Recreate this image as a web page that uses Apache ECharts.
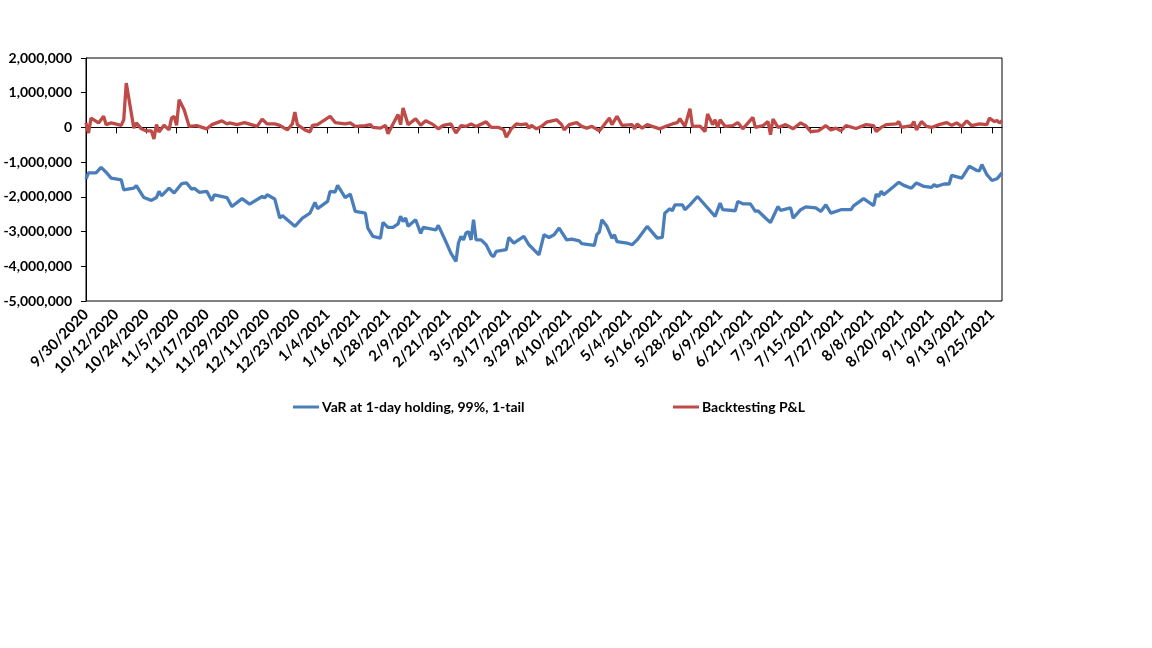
<!DOCTYPE html>
<html>
<head>
<meta charset="utf-8">
<script src="https://cdn.jsdelivr.net/npm/echarts@6/dist/echarts.min.js"></script>
<style>
html,body{margin:0;padding:0;background:#fff;}
#chart{width:1152px;height:648px;}
</style>
</head>
<body>
<div id="chart"></div>
<script>
// Axis range (calendar days, category axis)
const firstDate = '9/30/2020';
const lastDate = '9/29/2021';

// Y axis tick values
const yTicks = [-5000000, -4000000, -3000000, -2000000, -1000000, 0, 1000000, 2000000];

// Series names
const seriesNames = ['VaR at 1-day holding, 99%, 1-tail', 'Backtesting P&L'];

// VaR series (observation dates and values)
const varDates = ['9/30/2020','10/1/2020','10/4/2020','10/6/2020','10/8/2020','10/10/2020','10/14/2020','10/15/2020','10/19/2020','10/20/2020','10/23/2020','10/26/2020','10/28/2020','10/29/2020','10/30/2020','11/2/2020','11/4/2020','11/7/2020','11/9/2020','11/11/2020','11/12/2020','11/14/2020','11/17/2020','11/19/2020','11/20/2020','11/25/2020','11/27/2020','12/1/2020','12/4/2020','12/9/2020','12/10/2020','12/11/2020','12/14/2020','12/16/2020','12/17/2020','12/22/2020','12/25/2020','12/28/2020','12/30/2020','12/31/2020','1/4/2021','1/5/2021','1/7/2021','1/8/2021','1/11/2021','1/13/2021','1/15/2021','1/19/2021','1/20/2021','1/22/2021','1/25/2021','1/26/2021','1/28/2021','1/30/2021','2/1/2021','2/2/2021','2/3/2021','2/4/2021','2/5/2021','2/8/2021','2/10/2021','2/11/2021','2/16/2021','2/17/2021','2/20/2021','2/22/2021','2/24/2021','2/25/2021','2/26/2021','2/27/2021','2/28/2021','3/1/2021','3/2/2021','3/3/2021','3/4/2021','3/6/2021','3/8/2021','3/10/2021','3/11/2021','3/12/2021','3/16/2021','3/17/2021','3/19/2021','3/23/2021','3/25/2021','3/29/2021','3/31/2021','4/2/2021','4/4/2021','4/6/2021','4/9/2021','4/11/2021','4/14/2021','4/15/2021','4/20/2021','4/21/2021','4/22/2021','4/23/2021','4/25/2021','4/27/2021','4/28/2021','4/29/2021','5/3/2021','5/5/2021','5/7/2021','5/11/2021','5/15/2021','5/17/2021','5/18/2021','5/20/2021','5/21/2021','5/22/2021','5/25/2021','5/26/2021','5/28/2021','5/31/2021','6/7/2021','6/9/2021','6/10/2021','6/15/2021','6/16/2021','6/18/2021','6/21/2021','6/23/2021','6/24/2021','6/27/2021','6/29/2021','7/2/2021','7/3/2021','7/7/2021','7/8/2021','7/11/2021','7/13/2021','7/17/2021','7/19/2021','7/21/2021','7/23/2021','7/27/2021','7/31/2021','8/1/2021','8/5/2021','8/9/2021','8/10/2021','8/11/2021','8/12/2021','8/13/2021','8/19/2021','8/21/2021','8/24/2021','8/26/2021','8/29/2021','9/1/2021','9/2/2021','9/3/2021','9/6/2021','9/8/2021','9/9/2021','9/13/2021','9/16/2021','9/19/2021','9/20/2021','9/21/2021','9/23/2021','9/25/2021','9/27/2021','9/29/2021'];
const varValues = [-1480000,-1310000,-1310000,-1150000,-1290000,-1460000,-1510000,-1800000,-1750000,-1680000,-2020000,-2100000,-2020000,-1840000,-1970000,-1750000,-1890000,-1620000,-1600000,-1780000,-1750000,-1870000,-1840000,-2110000,-1940000,-2020000,-2280000,-2050000,-2210000,-1990000,-2030000,-1940000,-2060000,-2610000,-2540000,-2850000,-2610000,-2470000,-2160000,-2340000,-2130000,-1840000,-1860000,-1670000,-2020000,-1920000,-2420000,-2470000,-2900000,-3140000,-3190000,-2740000,-2880000,-2880000,-2780000,-2560000,-2710000,-2610000,-2850000,-2660000,-3050000,-2880000,-2950000,-2820000,-3290000,-3620000,-3860000,-3330000,-3140000,-3240000,-3040000,-3000000,-3240000,-2660000,-3240000,-3240000,-3380000,-3670000,-3720000,-3570000,-3520000,-3170000,-3330000,-3140000,-3380000,-3670000,-3090000,-3170000,-3090000,-2900000,-3240000,-3220000,-3270000,-3350000,-3400000,-3090000,-3010000,-2660000,-2850000,-3190000,-3090000,-3290000,-3330000,-3380000,-3240000,-2850000,-3190000,-3170000,-2470000,-2340000,-2400000,-2230000,-2230000,-2370000,-2230000,-1990000,-2560000,-2180000,-2370000,-2400000,-2130000,-2200000,-2200000,-2420000,-2400000,-2610000,-2740000,-2280000,-2390000,-2320000,-2610000,-2370000,-2290000,-2320000,-2420000,-2230000,-2470000,-2370000,-2370000,-2260000,-2050000,-2250000,-1920000,-1990000,-1840000,-1940000,-1580000,-1670000,-1750000,-1600000,-1700000,-1730000,-1650000,-1700000,-1630000,-1630000,-1380000,-1460000,-1120000,-1240000,-1250000,-1070000,-1360000,-1530000,-1480000,-1310000];

// Backtesting P&L series (observation dates and values)
const plDates = ['9/30/2020','10/1/2020','10/2/2020','10/5/2020','10/7/2020','10/8/2020','10/10/2020','10/14/2020','10/15/2020','10/16/2020','10/19/2020','10/20/2020','10/22/2020','10/24/2020','10/26/2020','10/27/2020','10/28/2020','10/29/2020','10/31/2020','11/2/2020','11/3/2020','11/4/2020','11/5/2020','11/6/2020','11/8/2020','11/10/2020','11/13/2020','11/17/2020','11/19/2020','11/23/2020','11/25/2020','11/26/2020','11/29/2020','12/2/2020','12/7/2020','12/9/2020','12/11/2020','12/14/2020','12/16/2020','12/19/2020','12/21/2020','12/22/2020','12/23/2020','12/26/2020','12/28/2020','12/29/2020','12/31/2020','1/5/2021','1/7/2021','1/11/2021','1/13/2021','1/15/2021','1/19/2021','1/21/2021','1/22/2021','1/25/2021','1/27/2021','1/28/2021','1/30/2021','2/1/2021','2/2/2021','2/3/2021','2/5/2021','2/8/2021','2/10/2021','2/12/2021','2/15/2021','2/17/2021','2/19/2021','2/22/2021','2/24/2021','2/26/2021','2/28/2021','3/2/2021','3/4/2021','3/8/2021','3/10/2021','3/13/2021','3/15/2021','3/16/2021','3/18/2021','3/20/2021','3/22/2021','3/24/2021','3/25/2021','3/26/2021','3/28/2021','3/30/2021','4/1/2021','4/5/2021','4/7/2021','4/8/2021','4/10/2021','4/13/2021','4/15/2021','4/17/2021','4/19/2021','4/22/2021','4/26/2021','4/27/2021','4/29/2021','5/1/2021','5/5/2021','5/6/2021','5/7/2021','5/9/2021','5/11/2021','5/13/2021','5/16/2021','5/19/2021','5/21/2021','5/23/2021','5/24/2021','5/26/2021','5/28/2021','5/29/2021','6/1/2021','6/3/2021','6/4/2021','6/6/2021','6/7/2021','6/8/2021','6/9/2021','6/11/2021','6/14/2021','6/16/2021','6/18/2021','6/22/2021','6/23/2021','6/26/2021','6/28/2021','6/29/2021','6/30/2021','7/2/2021','7/5/2021','7/8/2021','7/11/2021','7/13/2021','7/15/2021','7/18/2021','7/21/2021','7/23/2021','7/25/2021','7/27/2021','7/29/2021','8/2/2021','8/6/2021','8/9/2021','8/10/2021','8/12/2021','8/14/2021','8/18/2021','8/19/2021','8/20/2021','8/24/2021','8/25/2021','8/26/2021','8/28/2021','8/30/2021','9/1/2021','9/4/2021','9/7/2021','9/9/2021','9/11/2021','9/13/2021','9/15/2021','9/17/2021','9/20/2021','9/23/2021','9/24/2021','9/26/2021','9/27/2021','9/28/2021','9/29/2021'];
const plValues = [130000,-160000,270000,130000,320000,80000,130000,60000,220000,1280000,-20000,130000,-40000,-100000,-100000,-330000,80000,-130000,60000,-70000,270000,320000,60000,800000,510000,30000,50000,-40000,80000,190000,100000,130000,80000,140000,30000,240000,100000,100000,60000,-70000,100000,440000,80000,-70000,-130000,60000,80000,320000,140000,100000,130000,30000,50000,80000,0,-20000,60000,-180000,100000,370000,80000,560000,80000,250000,60000,190000,80000,-40000,60000,100000,-160000,50000,30000,100000,30000,160000,0,0,-70000,-280000,-40000,100000,80000,100000,-20000,60000,-40000,30000,150000,220000,80000,-70000,80000,140000,30000,-20000,30000,-100000,270000,80000,320000,60000,80000,-40000,100000,-20000,80000,30000,-40000,50000,100000,140000,250000,30000,540000,30000,40000,-120000,390000,80000,220000,0,220000,30000,50000,140000,-40000,290000,0,50000,170000,-210000,240000,0,80000,-40000,130000,50000,-120000,-100000,50000,-70000,-20000,-100000,50000,-30000,80000,50000,-120000,0,80000,100000,170000,0,50000,170000,-70000,170000,30000,0,80000,140000,60000,130000,30000,190000,50000,100000,80000,270000,170000,200000,130000,190000];

// Build the calendar-day categories
function fmt(d){ return (d.getMonth()+1) + '/' + d.getDate() + '/' + d.getFullYear(); }
function parse(s){ const p = s.split('/').map(Number); return new Date(p[2], p[0]-1, p[1]); }
const categories = [];
for (let d = parse(firstDate); d <= parse(lastDate); d.setDate(d.getDate()+1)) categories.push(fmt(d));

function align(dates, values){
  const m = new Map(dates.map((d,i)=>[d, values[i]]));
  return categories.map(c => m.has(c) ? m.get(c) : null);
}

const FONT = 'Lato, "Open Sans", sans-serif';
const chart = echarts.init(document.getElementById('chart'), null, {renderer:'canvas'});
const tickEvery = 12;

chart.setOption({
  animation: false,
  backgroundColor: '#ffffff',
  grid: { left: 86, right: 150, top: 58, bottom: 347, show: true, borderColor: '#000', borderWidth: 1, backgroundColor: 'transparent' },
  legend: [
    { data: [seriesNames[0]], left: 288, top: 395, icon: 'rect', itemWidth: 26, itemHeight: 3, itemGap: 0,
      textStyle: { fontFamily: FONT, fontWeight: 'bold', fontSize: 14, color: '#000', padding: [0,0,0,-2] } },
    { data: [seriesNames[1]], left: 668, top: 395, icon: 'rect', itemWidth: 26, itemHeight: 3, itemGap: 0,
      textStyle: { fontFamily: FONT, fontWeight: 'bold', fontSize: 14, color: '#000', padding: [0,0,0,-2] } }
  ],
  xAxis: [
    {
      type: 'category', data: categories, boundaryGap: false,
      axisLine: { show: true, onZero: true, lineStyle: { color: '#000', width: 1 } },
      axisTick: { show: true, length: 6, interval: (i) => i % tickEvery === 0, lineStyle: { color: '#000' } },
      axisLabel: { show: false },
      splitLine: { show: false }
    },
    {
      type: 'category', data: categories, boundaryGap: false, position: 'bottom',
      axisLine: { show: false, onZero: false },
      axisTick: { show: false },
      axisLabel: { show: true, rotate: 45, margin: 11, interval: (i) => i % tickEvery === 0,
        fontFamily: FONT, fontWeight: 'bold', fontSize: 15, color: '#000' },
      splitLine: { show: false }
    }
  ],
  yAxis: {
    type: 'value', min: yTicks[0], max: yTicks[yTicks.length-1], interval: 1000000,
    axisLine: { show: true, lineStyle: { color: '#000', width: 1 } },
    axisTick: { show: true, length: 5, inside: false, lineStyle: { color: '#000' } },
    axisLabel: { margin: 14, fontFamily: FONT, fontWeight: 'bold', fontSize: 14, color: '#000',
      formatter: (v) => v.toLocaleString('en-US') },
    splitLine: { show: false }
  },
  series: [
    { name: seriesNames[0], type: 'line', xAxisIndex: 0, data: align(varDates, varValues), connectNulls: true,
      symbol: 'none', lineStyle: { color: '#4a7ebb', width: 3.3 }, itemStyle: { color: '#4a7ebb' } },
    { name: seriesNames[1], type: 'line', xAxisIndex: 0, data: align(plDates, plValues), connectNulls: true,
      symbol: 'none', lineStyle: { color: '#be4b48', width: 3.3 }, itemStyle: { color: '#be4b48' } }
  ]
});
</script>
</body>
</html>
